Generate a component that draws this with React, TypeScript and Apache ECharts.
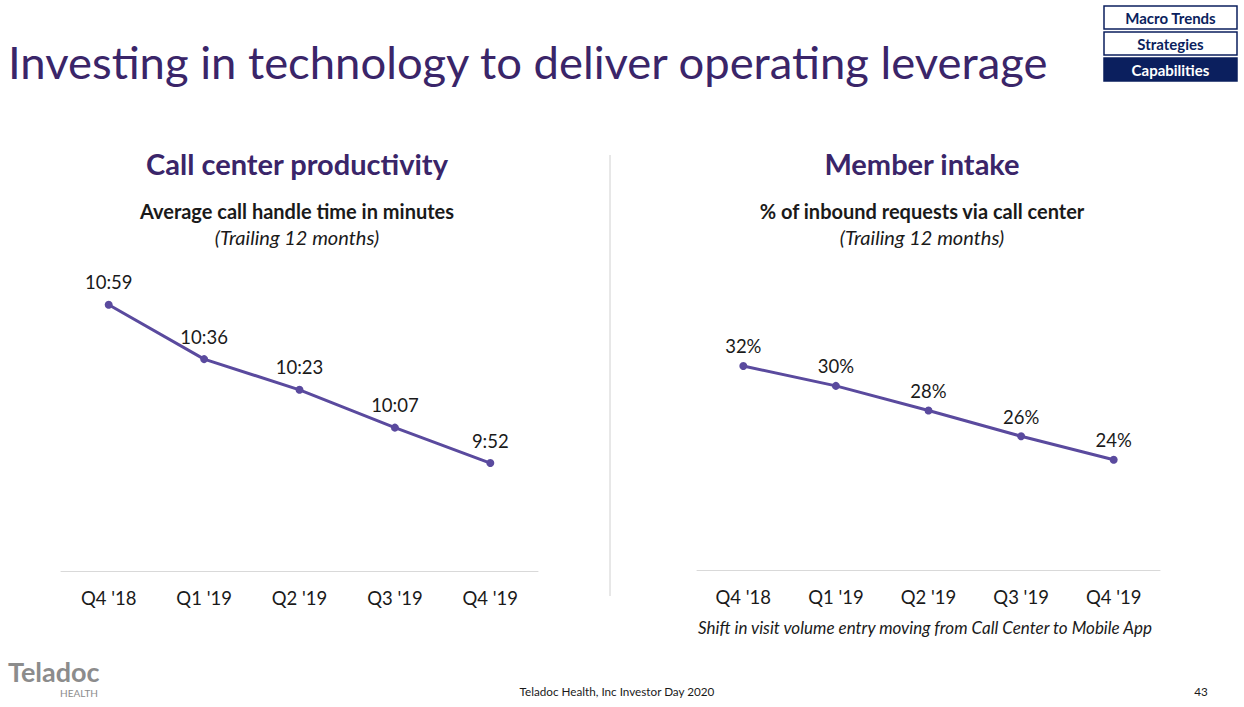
import React, { useEffect, useRef } from "react";
import * as echarts from "echarts";

const quarters = ["Q4 '18", "Q1 '19", "Q2 '19", "Q3 '19", "Q4 '19"];
// average call handle time, in seconds (10:59, 10:36, 10:23, 10:07, 9:52)
const handleTimeSec = [659, 636, 623, 607, 592];
// % of inbound requests via call center
const callCenterPct = [32, 30.3, 28.2, 26, 24];

const navButtons = ["Macro Trends", "Strategies", "Capabilities"];

const FONT = "Lato, 'Noto Sans', sans-serif";
const PURPLE_TITLE = "#3a2569";
const LINE = "#5a4a9e";
const NAVY = "#0b1f5e";

function fmtTime(v: number) {
  const m = Math.floor(v / 60);
  const s = Math.round(v - m * 60);
  return `${m}:${s < 10 ? "0" : ""}${s}`;
}

export default function App() {
  const ref = useRef<HTMLDivElement>(null);
  useEffect(() => {
    document.body.style.margin = "0";
    const chart = echarts.init(ref.current!, null, { renderer: "svg" });
    const axisCommon = {
      type: "category" as const,
      data: quarters,
      boundaryGap: true,
      axisLine: { lineStyle: { color: "#d9d9d9", width: 1 } },
      axisTick: { show: false },
      axisLabel: { color: "#1a1a1a", fontSize: 18.5, margin: 17, fontFamily: FONT },
    };
    const txt = (text: string, x: number, y: number, o: any = {}) => ({
      type: "text",
      style: {
        text,
        x,
        y,
        textAlign: o.align || "center",
        textVerticalAlign: "middle",
        fontSize: o.size || 18,
        fontWeight: o.weight || "normal",
        fontStyle: o.style || "normal",
        fill: o.color || "#1a1a1a",
        fontFamily: o.family || FONT,
      },
    });
    const buttons: any[] = [];
    navButtons.forEach((b, i) => {
      const y = 6 + i * 26;
      const active = i === navButtons.length - 1;
      buttons.push({
        type: "rect",
        shape: { x: 1104, y, width: 133, height: 23 },
        style: { fill: active ? NAVY : "#fff", stroke: NAVY, lineWidth: 1.5 },
      });
      buttons.push(txt(b, 1170.5, y + 12, { size: 15, weight: "bold", color: active ? "#fff" : NAVY }));
    });
    chart.setOption({
      animation: false,
      graphic: [
        txt("Investing in technology to deliver operating leverage", 8, 61, { align: "left", size: 45.4, color: PURPLE_TITLE }),
        ...buttons,
        txt("Call center productivity", 297, 163, { size: 29, weight: "bold", color: PURPLE_TITLE }),
        txt("Average call handle time in minutes", 297, 211, { size: 20, weight: "bold" }),
        txt("(Trailing 12 months)", 297, 237, { size: 20, style: "italic" }),
        txt("Member intake", 922, 163, { size: 29, weight: "bold", color: PURPLE_TITLE }),
        txt("% of inbound requests via call center", 922, 211, { size: 20, weight: "bold" }),
        txt("(Trailing 12 months)", 922, 237, { size: 20, style: "italic" }),
        {
          type: "line",
          shape: { x1: 610, y1: 155, x2: 610, y2: 596 },
          style: { stroke: "#d0d0d0", lineWidth: 1 },
        },
        txt("Shift in visit volume entry moving from Call Center to Mobile App", 925, 627, { size: 17, style: "italic" }),
        txt("Teladoc", 8, 671, { align: "left", size: 27, weight: "bold", color: "#8c8c8c" }),
        txt("HEALTH", 60, 693, { align: "left", size: 10, color: "#8c8c8c" }),
        txt("Teladoc Health, Inc Investor Day 2020", 617, 691, { size: 11.7 }),
        txt("43", 1201, 691, { size: 11.7 }),
      ],
      grid: [
        { left: 61, top: 271, width: 477, height: 300 },
        { left: 697, top: 271, width: 463, height: 299 },
      ],
      xAxis: [
        { ...axisCommon, gridIndex: 0 },
        { ...axisCommon, gridIndex: 1 },
      ],
      yAxis: [
        { type: "value", gridIndex: 0, min: 546.3, max: 673.3, show: false },
        { type: "value", gridIndex: 1, min: 14.58, max: 40.11, show: false },
      ],
      series: [
        {
          type: "line",
          xAxisIndex: 0,
          yAxisIndex: 0,
          data: handleTimeSec,
          symbol: "circle",
          symbolSize: 8,
          lineStyle: { color: LINE, width: 3 },
          itemStyle: { color: LINE },
          label: {
            show: true,
            position: "top",
            distance: 9,
            fontSize: 18.5,
            color: "#1a1a1a",
            fontFamily: FONT,
            formatter: (p: any) => fmtTime(p.value),
          },
        },
        {
          type: "line",
          xAxisIndex: 1,
          yAxisIndex: 1,
          data: callCenterPct,
          symbol: "circle",
          symbolSize: 8,
          lineStyle: { color: LINE, width: 3 },
          itemStyle: { color: LINE },
          label: {
            show: true,
            position: "top",
            distance: 6,
            fontSize: 18.5,
            color: "#1a1a1a",
            fontFamily: FONT,
            formatter: (p: any) => `${Math.round(p.value)}%`,
          },
        },
      ],
    });
    return () => chart.dispose();
  }, []);
  return <div ref={ref} style={{ width: 1244, height: 707 }} />;
}
